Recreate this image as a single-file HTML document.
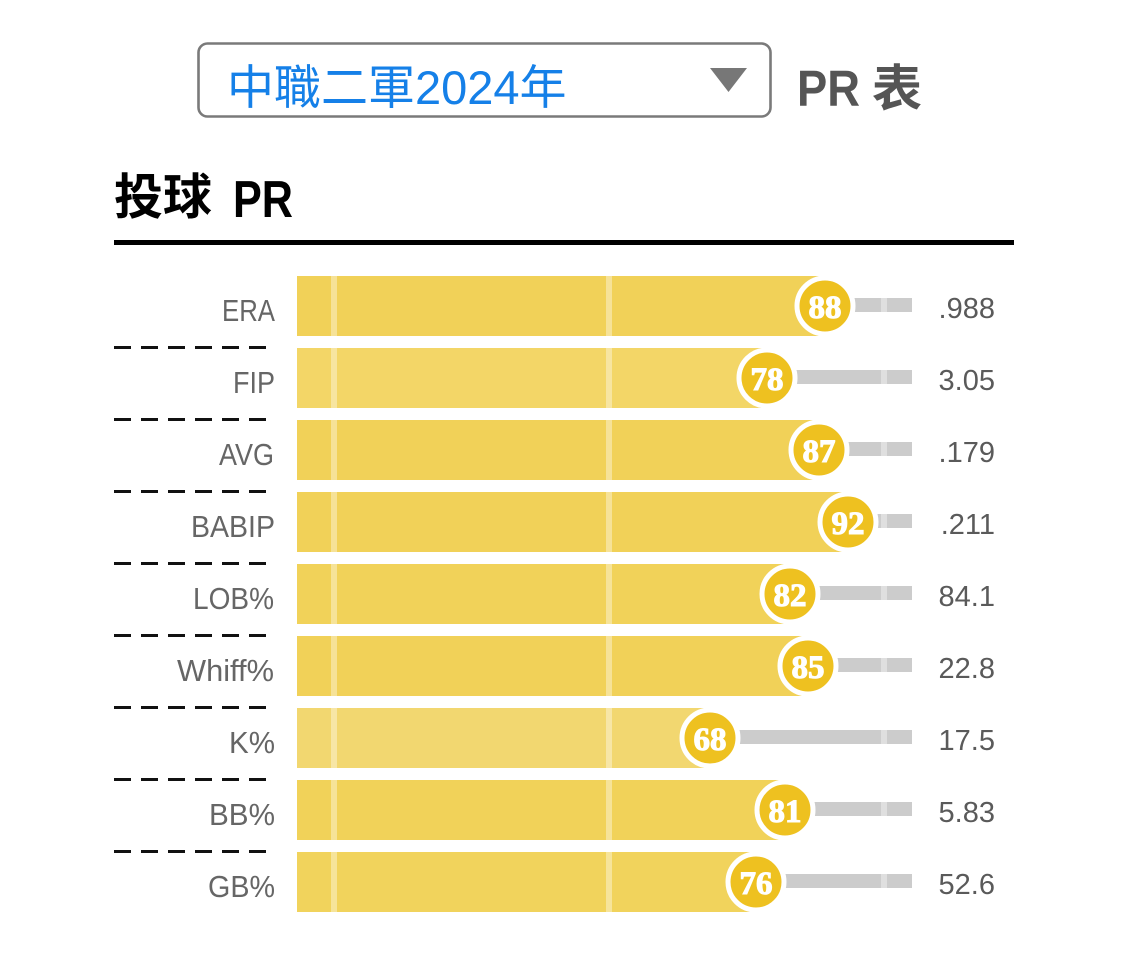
<!DOCTYPE html>
<html>
<head>
<meta charset="utf-8">
<style>
  html, body { margin: 0; padding: 0; background: #ffffff; }
  body { width: 1125px; height: 976px; overflow: hidden; }
  svg { display: block; }
  .cjk { font-family: "Liberation Sans", "Noto Sans CJK TC", sans-serif; }
  .lab { font-family: "Liberation Sans", "Noto Sans CJK TC", sans-serif; font-size: 31px; fill: #666666; }
  .val { font-family: "Liberation Sans", sans-serif; font-size: 29px; fill: #5a5a5a; }
  .num { font-family: "Liberation Serif", serif; font-weight: bold; font-size: 33px; fill: #ffffff; stroke: #ffffff; stroke-width: 1.1; }
</style>
</head>
<body>
<svg width="1125" height="976" viewBox="0 0 1125 976" xmlns="http://www.w3.org/2000/svg">
  <!-- Header select -->
  <rect x="198.5" y="43.5" width="572" height="73" rx="9" ry="9" fill="#ffffff" stroke="#7a7a7a" stroke-width="2.6"/>
  <text x="227" y="104" class="cjk" font-size="47" fill="#1580e8">中職二軍2024年</text>
  <polygon points="710,68 747,68 728.5,92" fill="#777777"/>
  <text x="797" y="106" font-family="Liberation Sans, sans-serif" font-weight="bold" font-size="51" fill="#555555" textLength="63" lengthAdjust="spacingAndGlyphs">PR</text>
  <text x="872" y="106" class="cjk" font-weight="bold" font-size="50" fill="#555555">表</text>

  <!-- Title -->
  <text x="114" y="214" class="cjk" font-weight="bold" font-size="49" fill="#000000">投球</text>
  <text x="233" y="217" font-family="Liberation Sans, sans-serif" font-weight="bold" font-size="52" fill="#000000" textLength="60" lengthAdjust="spacingAndGlyphs">PR</text>
  <rect x="114" y="240" width="900" height="5" fill="#000000"/>

  <!-- Rows -->
  <g id="rows">
    <rect x="297" y="276" width="528" height="60" fill="#f1d158"/>
    <rect x="825" y="298" width="87" height="14" fill="#cccccc"/>
    <rect x="297" y="348" width="470" height="60" fill="#f3d667"/>
    <rect x="767" y="370" width="145" height="14" fill="#cccccc"/>
    <rect x="297" y="420" width="522" height="60" fill="#f1d158"/>
    <rect x="819" y="442" width="93" height="14" fill="#cccccc"/>
    <rect x="297" y="492" width="551" height="60" fill="#f1d158"/>
    <rect x="848" y="514" width="64" height="14" fill="#cccccc"/>
    <rect x="297" y="564" width="493" height="60" fill="#f1d259"/>
    <rect x="790" y="586" width="122" height="14" fill="#cccccc"/>
    <rect x="297" y="636" width="511" height="60" fill="#f1d158"/>
    <rect x="808" y="658" width="104" height="14" fill="#cccccc"/>
    <rect x="297" y="708" width="413" height="60" fill="#f2d770"/>
    <rect x="710" y="730" width="202" height="14" fill="#cccccc"/>
    <rect x="297" y="780" width="488" height="60" fill="#f1d259"/>
    <rect x="785" y="802" width="127" height="14" fill="#cccccc"/>
    <rect x="297" y="852" width="459" height="60" fill="#f1d35c"/>
    <rect x="756" y="874" width="156" height="14" fill="#cccccc"/>
  </g>

  <!-- Divider lines -->
  <g fill="#ffffff" fill-opacity="0.38">
    <rect x="331" y="276" width="6" height="60"/><rect x="606" y="276" width="6" height="60"/><rect x="881" y="276" width="6" height="60"/>
    <rect x="331" y="348" width="6" height="60"/><rect x="606" y="348" width="6" height="60"/><rect x="881" y="348" width="6" height="60"/>
    <rect x="331" y="420" width="6" height="60"/><rect x="606" y="420" width="6" height="60"/><rect x="881" y="420" width="6" height="60"/>
    <rect x="331" y="492" width="6" height="60"/><rect x="606" y="492" width="6" height="60"/><rect x="881" y="492" width="6" height="60"/>
    <rect x="331" y="564" width="6" height="60"/><rect x="606" y="564" width="6" height="60"/><rect x="881" y="564" width="6" height="60"/>
    <rect x="331" y="636" width="6" height="60"/><rect x="606" y="636" width="6" height="60"/><rect x="881" y="636" width="6" height="60"/>
    <rect x="331" y="708" width="6" height="60"/><rect x="606" y="708" width="6" height="60"/><rect x="881" y="708" width="6" height="60"/>
    <rect x="331" y="780" width="6" height="60"/><rect x="606" y="780" width="6" height="60"/><rect x="881" y="780" width="6" height="60"/>
    <rect x="331" y="852" width="6" height="60"/><rect x="606" y="852" width="6" height="60"/><rect x="881" y="852" width="6" height="60"/>
  </g>

  <!-- Bubbles -->
  <g fill="#eec120" stroke="#ffffff" stroke-width="5">
    <circle cx="825" cy="306" r="28"/>
    <circle cx="767" cy="378" r="28"/>
    <circle cx="819" cy="450" r="28"/>
    <circle cx="848" cy="522" r="28"/>
    <circle cx="790" cy="594" r="28"/>
    <circle cx="808" cy="666" r="28"/>
    <circle cx="710" cy="738" r="28"/>
    <circle cx="785" cy="810" r="28"/>
    <circle cx="756" cy="882" r="28"/>
  </g>
  <g class="num" text-anchor="middle">
    <text x="825" y="318">88</text>
    <text x="767" y="390">78</text>
    <text x="819" y="462">87</text>
    <text x="848" y="534">92</text>
    <text x="790" y="606">82</text>
    <text x="808" y="678">85</text>
    <text x="710" y="750">68</text>
    <text x="785" y="822">81</text>
    <text x="756" y="894">76</text>
  </g>

  <!-- Labels -->
  <g class="lab">
    <text x="222" y="321" textLength="53" lengthAdjust="spacingAndGlyphs">ERA</text>
    <text x="233" y="393" textLength="42" lengthAdjust="spacingAndGlyphs">FIP</text>
    <text x="219" y="465" textLength="55" lengthAdjust="spacingAndGlyphs">AVG</text>
    <text x="191" y="537" textLength="84" lengthAdjust="spacingAndGlyphs">BABIP</text>
    <text x="193" y="609" textLength="81" lengthAdjust="spacingAndGlyphs">LOB%</text>
    <text x="177" y="681" textLength="97" lengthAdjust="spacingAndGlyphs">Whiff%</text>
    <text x="229" y="753" textLength="46" lengthAdjust="spacingAndGlyphs">K%</text>
    <text x="209" y="825" textLength="66" lengthAdjust="spacingAndGlyphs">BB%</text>
    <text x="208" y="897" textLength="67" lengthAdjust="spacingAndGlyphs">GB%</text>
  </g>

  <!-- Values -->
  <g class="val" text-anchor="end">
    <text x="995" y="318">.988</text>
    <text x="995" y="390">3.05</text>
    <text x="995" y="462">.179</text>
    <text x="995" y="534">.211</text>
    <text x="995" y="606">84.1</text>
    <text x="995" y="678">22.8</text>
    <text x="995" y="750">17.5</text>
    <text x="995" y="822">5.83</text>
    <text x="995" y="894">52.6</text>
  </g>

  <!-- Dashed separators -->
  <g stroke="#111111" stroke-width="3" stroke-dasharray="17 10" fill="none">
    <line x1="114" y1="347.5" x2="266" y2="347.5"/>
    <line x1="114" y1="419.5" x2="266" y2="419.5"/>
    <line x1="114" y1="491.5" x2="266" y2="491.5"/>
    <line x1="114" y1="563.5" x2="266" y2="563.5"/>
    <line x1="114" y1="635.5" x2="266" y2="635.5"/>
    <line x1="114" y1="707.5" x2="266" y2="707.5"/>
    <line x1="114" y1="779.5" x2="266" y2="779.5"/>
    <line x1="114" y1="851.5" x2="266" y2="851.5"/>
  </g>
</svg>
</body>
</html>
